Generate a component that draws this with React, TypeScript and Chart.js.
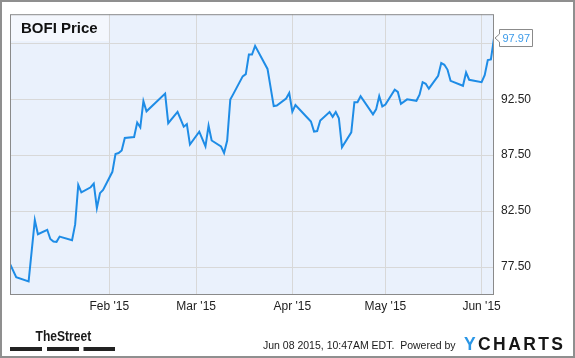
import React, { useEffect, useRef } from "react";
import { Chart, registerables } from "chart.js";

Chart.register(...registerables);

// Day offsets from Jan 1 2015 (trading days shown as line vertices)
const days = [
  -1, 1, 5, 7, 8, 11, 12, 13, 14, 15, 19, 20, 21, 22, 25, 26, 27, 28, 29,
  32, 33, 34, 35, 36, 39, 40, 41, 42, 43, 49, 50, 53, 55, 56, 57,
  60, 62, 63, 64, 67, 68, 69, 70, 71, 74, 75, 76, 77, 78, 82, 84, 85, 88, 89,
  90, 91, 95, 96, 97, 98, 99, 102, 103, 104, 105, 106, 109, 110, 111, 112, 116, 117, 118, 119,
  120, 123, 124, 125, 127, 130, 131, 132, 133, 134, 137, 138, 139, 140, 141, 145, 146, 147,
  151, 152, 153, 154, 155,
];
const prices = [
  77.78, 76.6, 76.22, 81.69, 80.43, 80.83, 80.01, 79.78, 79.75, 80.22, 79.9, 81.31, 84.84, 84.18, 84.63, 84.95, 82.77, 84.1, 84.4,
  86.01, 87.6, 87.69, 87.92, 89.03, 89.12, 90.42, 89.98, 92.33, 91.42, 93.0, 90.36, 91.36, 90.04, 90.27, 88.45,
  89.6, 88.28, 90.13, 88.81, 88.28, 87.69, 88.81, 92.47, 92.98, 94.54, 94.74, 96.5, 96.5, 97.27, 95.21, 91.89, 91.94, 92.56, 93.06,
  91.39, 91.98, 90.8, 90.51, 89.6, 89.65, 90.6, 91.36, 90.92, 91.36, 90.8, 88.21, 89.54, 92.24, 92.24, 92.77, 91.15, 91.59, 92.77, 91.86,
  92.03, 93.36, 93.15, 92.09, 92.49, 92.36, 92.91, 94.02, 93.88, 93.44, 94.59, 95.73, 95.58, 95.15, 94.14, 93.7, 94.89, 94.24,
  94.02, 94.65, 96.0, 96.06, 97.97,
];
const monthTickDays = [31, 59, 90, 120, 151];
const monthTickLabels = ["Feb '15", "Mar '15", "Apr '15", "May '15", "Jun '15"];
const priceTicks = [77.5, 82.5, 87.5, 92.5, 97.5];
const chartTitle = "BOFI Price";
const footerText = "Jun 08 2015, 10:47AM EDT.  Powered by";
const brandLeft = "TheStreet";
const brandRight = "YCHARTS";

const FONT = "'Liberation Sans', Arial, sans-serif";

export default function App() {
  const ref = useRef<HTMLCanvasElement>(null);

  useEffect(() => {
    const canvas = ref.current!;
    const decor = {
      id: "decor",
      beforeDraw(chart: any) {
        const { ctx, chartArea: a } = chart;
        ctx.save();
        ctx.fillStyle = "#ffffff";
        ctx.fillRect(0, 0, chart.width, chart.height);
        ctx.fillStyle = "#eaf1fc";
        ctx.fillRect(a.left, a.top, a.right - a.left, a.bottom - a.top);
        ctx.restore();
      },
      beforeDatasetsDraw(chart: any) {
        const { ctx, chartArea: a } = chart;
        const xs = chart.scales.x;
        const boxRight = xs.getPixelForValue(monthTickDays[0]) - 0.5;
        ctx.save();
        ctx.fillStyle = "#f4f7fd";
        ctx.fillRect(a.left, a.top, boxRight - a.left, 27);
        ctx.font = `bold 15px ${FONT}`;
        ctx.fillStyle = "#111111";
        ctx.textBaseline = "alphabetic";
        ctx.textAlign = "left";
        ctx.fillText(chartTitle, a.left + 11, a.top + 19);
        ctx.restore();
      },
      afterDraw(chart: any) {
        const { ctx, chartArea: a } = chart;
        ctx.save();
        // plot border
        ctx.strokeStyle = "#8a8a8a";
        ctx.lineWidth = 1;
        ctx.strokeRect(a.left + 0.5, a.top + 0.5, a.right - a.left - 1, a.bottom - a.top - 1);
        // outer border
        ctx.lineWidth = 2;
        ctx.strokeStyle = "#8f8f8f";
        ctx.strokeRect(1, 1, chart.width - 2, chart.height - 2);

        // last value label
        const n = prices.length - 1;
        const px = chart.scales.x.getPixelForValue(days[n]);
        const py = chart.scales.y.getPixelForValue(prices[n]);
        const bl = px + 5.5;
        const br = bl + 33;
        const bt = py - 8.5;
        const bb = py + 8.5;
        ctx.lineWidth = 1;
        ctx.beginPath();
        ctx.moveTo(bl, bt);
        ctx.lineTo(br, bt);
        ctx.lineTo(br, bb);
        ctx.lineTo(bl, bb);
        ctx.lineTo(bl, py + 4);
        ctx.lineTo(px + 1, py);
        ctx.lineTo(bl, py - 4);
        ctx.closePath();
        ctx.fillStyle = "#ffffff";
        ctx.fill();
        ctx.strokeStyle = "#8a8a8a";
        ctx.stroke();
        ctx.fillStyle = "#3d9be9";
        ctx.font = `11px ${FONT}`;
        ctx.textBaseline = "middle";
        ctx.textAlign = "left";
        ctx.fillText(prices[n].toFixed(2), bl + 3, py + 0.5);

        // footer: TheStreet logo
        ctx.save();
        ctx.translate(35.5, 341);
        ctx.scale(0.78, 1);
        ctx.font = `bold 15.5px ${FONT}`;
        ctx.fillStyle = "#1a1a1a";
        ctx.textBaseline = "alphabetic";
        ctx.fillText(brandLeft, 0, 0);
        ctx.restore();
        ctx.fillStyle = "#222222";
        ctx.fillRect(10, 347, 32, 4);
        ctx.fillRect(47, 347, 32, 4);
        ctx.fillRect(83.5, 347, 31.5, 4);

        // footer text
        ctx.font = `10.5px ${FONT}`;
        ctx.fillStyle = "#1a1a1a";
        ctx.textBaseline = "alphabetic";
        ctx.fillText(footerText, 263, 349);

        // YCHARTS logo
        ctx.font = `bold 17.5px ${FONT}`;
        let x = 464;
        const spacing = 2.4;
        for (let i = 0; i < brandRight.length; i++) {
          const ch = brandRight[i];
          ctx.fillStyle = i === 0 ? "#2a96e6" : "#161616";
          ctx.fillText(ch, x, 350);
          x += ctx.measureText(ch).width + spacing;
        }
        ctx.restore();
      },
    };

    const chart = new Chart(canvas, {
      type: "line",
      data: {
        datasets: [
          {
            data: days.map((d, i) => ({ x: d, y: prices[i] })),
            borderColor: "#1e8ce6",
            borderWidth: 2,
            pointRadius: 0,
            tension: 0,
            fill: false,
          },
        ],
      },
      options: {
        responsive: false,
        animation: false,
        devicePixelRatio: 1,
        layout: { padding: { left: 10, top: 10, right: 11, bottom: 43 } },
        plugins: { legend: { display: false }, tooltip: { enabled: false }, title: { display: false } },
        scales: {
          x: {
            type: "linear",
            min: -1,
            max: 155,
            afterBuildTicks: (s: any) => {
              s.ticks = monthTickDays.map((v) => ({ value: v }));
            },
            afterFit: (s: any) => {
              s.height = 20;
            },
            ticks: {
              callback: (v: any) => {
                const i = monthTickDays.indexOf(Number(v));
                return i >= 0 ? monthTickLabels[i] : "";
              },
              color: "#222222",
              font: { family: FONT, size: 12 },
              padding: 4,
              maxRotation: 0,
              autoSkip: false,
            },
            grid: { color: "#d8d8d8", lineWidth: 1, drawTicks: false },
            border: { display: false },
          },
          y: {
            type: "linear",
            position: "right",
            min: 75,
            max: 100.1,
            afterBuildTicks: (s: any) => {
              s.ticks = priceTicks.map((v) => ({ value: v }));
            },
            afterFit: (s: any) => {
              s.width = 70;
            },
            ticks: {
              callback: (v: any) => Number(v).toFixed(2),
              color: "#222222",
              font: { family: FONT, size: 12 },
              padding: 7,
              autoSkip: false,
            },
            grid: { color: "#d8d8d8", lineWidth: 1, drawTicks: false },
            border: { display: false },
          },
        },
      },
      plugins: [decor],
    } as any);

    return () => chart.destroy();
  }, []);

  return (
    <div style={{ position: "absolute", left: 0, top: 0, width: 575, height: 358 }}>
      <canvas ref={ref} width={575} height={358} style={{ display: "block", width: 575, height: 358 }} />
    </div>
  );
}
